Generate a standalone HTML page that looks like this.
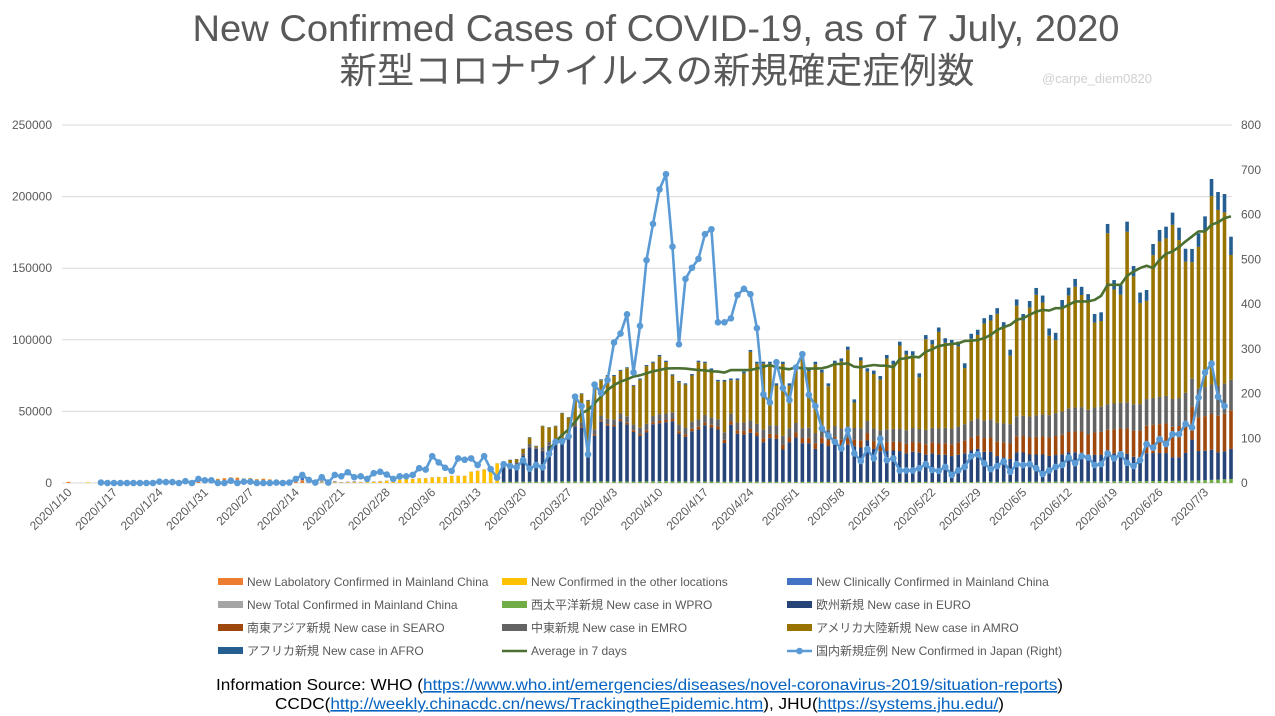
<!DOCTYPE html>
<html><head><meta charset="utf-8">
<style>
html,body{margin:0;padding:0;background:#fff;}
svg{display:block;font-family:"Liberation Sans","Noto Sans CJK JP",sans-serif;}
</style></head>
<body>
<svg id="chart" width="1275" height="716" viewBox="0 0 1275 716" xmlns="http://www.w3.org/2000/svg">
<rect width="1275" height="716" fill="#fff"/>
<text x="656" y="41" text-anchor="middle" font-size="37" fill="#595959" textLength="927" lengthAdjust="spacingAndGlyphs">New Confirmed Cases of COVID-19, as of 7 July, 2020</text>
<text x="657" y="83" text-anchor="middle" font-size="36" fill="#595959" textLength="635" lengthAdjust="spacingAndGlyphs" font-family="'Noto Sans CJK JP',sans-serif">新型コロナウイルスの新規確定症例数</text>
<text x="1097" y="83" text-anchor="middle" font-size="13" fill="#d0d0d0">@carpe_diem0820</text>
<g id="grid"></g><g id="bars"></g><g id="lines"></g><g id="axes"></g><g id="legend"></g>
<text x="216" y="690" font-size="16" fill="#000" textLength="847" lengthAdjust="spacingAndGlyphs">Information Source: WHO (<tspan fill="#0563C1" text-decoration="underline">https://www.who.int/emergencies/diseases/novel-coronavirus-2019/situation-reports</tspan>)</text>
<text x="275" y="709" font-size="16" fill="#000" textLength="729" lengthAdjust="spacingAndGlyphs">CCDC(<tspan fill="#0563C1" text-decoration="underline">http://weekly.chinacdc.cn/news/TrackingtheEpidemic.htm</tspan>), JHU(<tspan fill="#0563C1" text-decoration="underline">https://systems.jhu.edu/</tspan>)</text>
</svg>
<script>
// ---- data (cases in thousands) ----
const leftTicks = [0,50000,100000,150000,200000,250000];
const rightTicks = [0,100,200,300,400,500,600,700,800];
const xTickLabels = ['2020/1/10','2020/1/17','2020/1/24','2020/1/31','2020/2/7','2020/2/14','2020/2/21','2020/2/28','2020/3/6','2020/3/13','2020/3/20','2020/3/27','2020/4/3','2020/4/10','2020/4/17','2020/4/24','2020/5/1','2020/5/8','2020/5/15','2020/5/22','2020/5/29','2020/6/5','2020/6/12','2020/6/19','2020/6/26','2020/7/3'];
const dayCount = 180;
// China-era series, day 0 .. 66
const labChinaK = [0.8,0,0,0,0,0,0,0,0,0,0.14,0.15,0.13,0.26,0.44,0.69,0.77,1.77,1.46,1.74,1.98,2.10,2.59,2.83,3.24,3.89,3.69,3.14,3.40,2.65,2.98,2.47,2.02,2.0,1.8,1.5,1.8,0,0,0,0,0,0,0,0,0,0,0,0,0,0,0,0,0,0,0,0,0,0,0,0,0,0,0,0,0,0];
const otherLocK = [0,0,0,0.5,0,0,0,0,0,0,0,0,0,0,0,0,0,0,0,0,0.1,0.1,0.1,0.1,0.1,0.1,0.1,0.1,0.1,0.1,0.1,0.1,0.1,0.1,0.1,0.1,0.1,0.2,0.2,0.3,0.2,0.3,0.3,0.4,0.4,0.5,0.6,0.8,1.0,1.5,1.6,2.3,3.2,2.8,3.2,3.3,3.9,4.2,4.0,5.0,5.0,5.0,7.9,8.6,9.5,9.5,13.7];
const clinicalChinaK = [0,0,0,0,0,0,0,0,0,0,0,0,0,0,0,0,0,0,0,0,0,0,0,0,0,0,0,0,0,0,0,0,0,0,0,0,3.0,1.0,0,0,0,0,0,0,0,0,0,0,0,0,0,0,0,0,0,0,0,0,0,0,0,0,0,0,0,0,0];
const totalChinaK = [0,0,0,0,0,0,0,0,0,0,0,0,0,0,0,0,0,0,0,0,0,0,0,0,0,0,0,0,0,0,0,0,0,0,0,0,0,0,2.0,1.8,1.7,1.2,0.4,0.6,0.9,0.4,0.5,0.4,0.4,0.3,0.4,0.6,0.2,0.1,0.1,0.1,0.1,0.05,0.05,0.05,0.05,0.05,0.05,0.05,0.05,0.05,0.05];
// WHO region series, day 67 .. 179
const regionStart = 67;
const wproK = [.8,.8,.9,.9,.9,.8,1,1,1,1.1,1.1,1,1, 1.1,1,1.1,1,1,1.1,1,.9,1,1.1,1.2,1.2,1.3,1.1,1,1,1.1,1.1,1,1, .9,.9,.9,.9,.8,.9,.9,.8,.8,.8,.8,.8,.8,.8,.8,.8,.8,.8,.8,.7,.8,.7, .8,.7,.8,.7,.8,.7,.8,.7,.8,.7,.8,.7,.8,.7,.8,.7,.8,.7,.8,.8, .9,.8,.9,.8,.9,.8,.9,.9,.9,.9,1,1,1,1,1.1,1.1,1.1,1.1,1.2, 1.2,1.2,1.3,1.3,1.3,1.3,1.4,1.4,1.4,1.5,1.5,1.5,1.6,1.8,2,2.2,2.4,2.6,2.8];
const euroK = [10,11.5,12,18,24,23,21,25,27,27,30,38.6,37.5, 18,32,41.7,39,38.5,42,39.8,34.7,31.9,34.2,39.8,40.5,41.2,42,33.5,31.2,35,36.3,39.3,37.7, 36.5,27,39.8,33.5,33,34.2,31.9,27.7,30.5,30,22.6,27.7,31,27,27,23,27,25,27,25,26,25, 24,29,23,21.5,21.5,22,21.5,20,21,20.5,19,20,19,19,18,19,20,22,23,21, 21,18,17,16,20.5,20.5,19,19,19,18,18.5,19,20.5,20.5,20,17.5,18.5,18.5,19.5, 19.5,19.5,19,17,16.5,19.5,19.5,19.5,19.5,16.5,16.5,19.5,28.7,20.5,20.5,21,19,19.5,21];
const searoK = [.2,.2,.3,.3,.3,.2,.4,.4,.5,.5,.6,.6,.7, .7,.9,1,1.1,1,1.2,1.3,1.2,1.4,1.5,1.4,1.6,1.5,1.6,1.7,1.8,1.8,1.9,2,2, 2.1,2.2,2.3,2.4,2.6,2.6,2.7,2.8,3,3.1,3.2,3.3,3.5,3.6,3.8,3.9,4.1,4.2,4.4,4.6,4.8,4.6, 5,5.2,5.5,5.7,6,6.1,6.3,6.6,6.8,7,7.3,7.5,7.8,8,8.2,8.5,8.8,9,9.3,9.6, 9.9,10.3,10.5,10.8,11.2,11.5,11.9,12.3,12.6,12.9,13.3,13.7,14.1,14.5,14.9,15.3,15.7,16.1,16.5, 16.9,17.4,17.8,18.3,18.8,19.2,19.7,20.2,20.7,21.3,21.8,22.4,23,23.6,24.2,25,25.6,26.3,27];
const emroK = [1.2,1.3,1.4,1.6,2,1,2.4,2.2,2.5,3,2.6,3,3.2, 3.5,3.6,3.3,3.8,4,4.2,4.5,4,4.3,4.6,4.4,4.8,4.5,4.7,4.6,4.8,4.9,5,5.2,5.1, 5,5.3,5.5,5.4,5.8,6,5.9,6.2,6,6.3,6.4,6.5,6.6,6.9,7,7.2,7.4,7.5,7.6,7.8,8,8.1, 8.5,8.4,8.8,9,9.2,9,9.4,9.6,9.8,9.5,10,10.3,10.5,10.8,11,11.2,11.5,11.8,12,12.3, 12.6,13,13.2,13.5,14,14.2,14.6,15,15.3,15.6,16,16.2,16.5,16.8,17,17.2,17.4,17.6,17.8, 17.9,18,18.2,18.4,18.5,18.6,18.8,19,19.2,19.4,19.5,19.6,19.8,20,20.3,20.6,20.8,21,21.2];
const amroK = [2.1,2.3,2.0,3.0,4.5,.8,14.9,10.1,8.6,17.0,11.3,15.3,19.7, 34.2,31.5,24.7,29.9,30.2,29.8,33.5,27.0,33.6,40.2,37.1,40.4,36.0,25.7,29.5,29.9,32.3,40.1,36.2,33.1, 26.5,35.5,23.3,29.6,34.3,47.9,41.9,45.8,42.9,27.9,50.1,29.7,38.8,50.0,39.6,47.9,37.8,30.1,43.6,46.8,53.4,17.8, 47.2,34.5,38.0,35.3,49.4,45.0,58.0,52.8,50.8,36.1,63.3,58.3,67.4,59.4,58.6,56.0,39.1,57.2,58.3,67.6, 69.1,76.0,66.6,47.8,77.2,66.5,76.1,84.2,78.2,55.5,51.0,72.6,78.9,84.2,78.3,75.0,59.3,59.8,119.4, 79.6,75.4,119.2,89.3,70.5,68.6,99.7,108.6,110.0,121.6,110.3,91.6,81.1,99.0,109.4,131.5,122.9,119.6,87.2];
const afroK = [.1,.2,.2,.2,.3,.2,.3,.3,.4,.4,.4,.5,.5, .5,.6,.6,.6,.7,.7,.7,.6,.8,.8,.8,.9,.9,.8,.9,.9,1,1,1,1.1, 1,1.1,1.2,1.2,1.3,1.3,1.4,1.4,1.5,1.5,1.6,1.6,1.7,1.7,1.8,1.9,1.9,2,2,2.1,2.2,2.2, 2.3,2.3,2.4,2.5,2.5,2.6,2.7,2.7,2.8,2.8,2.9,3,3.1,3.2,3.3,3.3,3.4,3.5,3.6,3.8, 3.9,4,4.1,4.2,4.4,4.5,4.6,4.8,4.9,5,5.1,5.3,5.4,5.5,5.7,5.8,6,6.1,6.5, 6.6,6.8,7,7.2,7.4,7.6,7.8,8,8.2,8.5,8.7,9,9.2,9.5,9.8,12,12.5,12.8,12.8];
// 7-day average, day 74 .. 179
const avgStart = 74;
const avg7K = [23.0,28.9,33.5,37.5,42.8,48.7,51.0,55.6,60.3,65.0,68.4,70.8,72.4,74.3,75.2,76.6,78.0,78.9,79.9,80.1,80.1,79.9,79.4,78.9,78.7,78.0,77.8,77.1,78.9,78.9,78.9,78.9,79.9,81.2,82.4,80.8,80.1,79.4,80.8,80.1,79.9,79.9,80.1,81.2,83.1,83.1,83.6,81.2,80.8,81.7,82.4,81.9,81.9,80.8,86.6,87.1,88.2,87.8,91.7,93.4,95.7,96.4,97.1,97.5,99.2,99.4,99.9,101.1,103.4,106.9,108.8,110.4,113.9,115.1,117.4,119.7,120.9,120.4,122.1,122.1,124.4,126.8,126.8,126.8,127.9,130.7,138.4,138.4,138.4,144.7,147.7,150.1,151.7,150.1,155.9,160.1,161.7,164.8,168.7,172.2,175.7,175.7,180.4,182.0,185.0,186.2];
// Japan daily new cases (right axis), day 5 .. 178
const japanStart = 5;
const japanCases = [1,0,0,0,0,0,0,0,0,3,2,2,0,4,0, 9,6,6,0,0,5,0,3,3,0,0,0,1,0,1, 9,18,7,1,13,1,18,15,24,13,15,9,22,25,19,9,15,15,18,33,30,60,46,34,27,55,52,55,40,60,31,12,42,38,35, 51,32,40,35,65,92,93,104,193,172,64,220,201,230,314,334,377,247,351,498,579,656,690,528,310,456,481,501,556,567,359,359,368,420,434,422,346,198,180,270,212,185,258,288,197,172,122,106,92,77,118,66,49,76,55,99, 51,55,28,28,28,33,42,29,27,36,18,28,36,60,64,44,31,38,48,25,42,40,42,33,20,28,36,40,57,44,60,57,40,42,66,55,64,45,38,51,87,79,98,87,109,109,132,124,191,247,267,193,172];

// ---- scales ----
const NS='http://www.w3.org/2000/svg';
const plotL=62, plotR=1232, y0=483, yTop=125;
function xPos(i){ return 68.5 + i*(1231-68.5)/(dayCount-1); }
function yLeft(v){ return y0 - v/250000*(y0-yTop); }
function yRight(v){ return y0 - v/800*(y0-yTop); }
function mk(tag, attrs, parent){ const e=document.createElementNS(NS,tag); for(const k in attrs) e.setAttribute(k,attrs[k]); parent.appendChild(e); return e; }

const gGrid=document.getElementById('grid'), gBars=document.getElementById('bars'), gLines=document.getElementById('lines'), gAxes=document.getElementById('axes'), gLeg=document.getElementById('legend');

leftTicks.forEach(t=>{
  const y=yLeft(t);
  const ln=mk('line',{x1:plotL,x2:plotR,y1:y,y2:y,stroke:'#d9d9d9','stroke-width':1},gGrid);
  
  
  const tx=mk('text',{x:52,y:y+4,'text-anchor':'end','font-size':12,fill:'#595959'},gAxes);
  tx.textContent=t;
  
  
});
rightTicks.forEach(t=>{
  const tx=mk('text',{x:1241,y:yRight(t)+4,'font-size':12,fill:'#595959'},gAxes);
  tx.textContent=t;
  
  
});
xTickLabels.forEach((lab,k)=>{
  const x=xPos(k*7)+4, y=493;
  const tx=mk('text',{x:x,y:y,'text-anchor':'end','font-size':12,fill:'#595959',transform:`rotate(-45 ${x} ${y})`},gAxes);
  tx.textContent=lab;
  
  
});

const bw=3.6;
function stackFor(i){
  const s=[];
  if(i<regionStart){
    s.push(['lab-china',labChinaK[i],'#ED7D31']);
    s.push(['other-locations',otherLocK[i],'#FFC000']);
    s.push(['clinical-china',clinicalChinaK[i],'#4472C4']);
    s.push(['total-china',totalChinaK[i],'#A5A5A5']);
  } else {
    const j=i-regionStart;
    s.push(['wpro',wproK[j],'#70AD47']);
    s.push(['euro',euroK[j],'#264478']);
    s.push(['searo',searoK[j],'#9E480E']);
    s.push(['emro',emroK[j],'#636363']);
    s.push(['amro',amroK[j],'#997300']);
    s.push(['afro',afroK[j],'#255E91']);
  }
  return s;
}
for(let i=0;i<dayCount;i++){
  let cum=0;
  stackFor(i).forEach(([nm,vk,col])=>{
    if(!vk) return;
    const v=vk*1000;
    const yb=yLeft(cum), yt=yLeft(cum+v);
    cum+=v;
    const r=mk('rect',{x:xPos(i)-bw/2,y:yt,width:bw,height:Math.max(0.3,yb-yt),fill:col},gBars);
    
    
  });
}

// avg line
let d='';
avg7K.forEach((v,k)=>{ d+=(k?'L':'M')+xPos(avgStart+k).toFixed(2)+' '+yLeft(v*1000).toFixed(2); });
const avgPath=mk('path',{d:d,fill:'none',stroke:'#4B7031','stroke-width':2.6,'stroke-linejoin':'round'},gLines);



// japan line
d='';
japanCases.forEach((v,k)=>{ d+=(k?'L':'M')+xPos(japanStart+k).toFixed(2)+' '+yRight(v).toFixed(2); });
const jp=mk('path',{d:d,fill:'none',stroke:'#5B9BD5','stroke-width':2.6,'stroke-linejoin':'round'},gLines);


japanCases.forEach((v,k)=>{
  const c=mk('circle',{cx:xPos(japanStart+k),cy:yRight(v),r:3.3,fill:'#5B9BD5'},gLines);
  
  
});

// legend
const legendItems=[
 ['New Labolatory Confirmed in Mainland China','#ED7D31','box'],
 ['New Confirmed in the other locations','#FFC000','box'],
 ['New Clinically Confirmed in Mainland China','#4472C4','box'],
 ['New Total Confirmed in Mainland China','#A5A5A5','box'],
 ['西太平洋新規 New case in WPRO','#70AD47','box'],
 ['欧州新規 New case in EURO','#264478','box'],
 ['南東アジア新規 New case in SEARO','#9E480E','box'],
 ['中東新規 New case in EMRO','#636363','box'],
 ['アメリカ大陸新規 New case in AMRO','#997300','box'],
 ['アフリカ新規 New case in AFRO','#255E91','box'],
 ['Average in 7 days','#4B7031','line'],
 ['国内新規症例 New Confirmed in Japan (Right)','#5B9BD5','marker']
];
const colX=[218,502,787], rowY=[581,604,627,650];
legendItems.forEach((it,k)=>{
  const x=colX[k%3], y=rowY[Math.floor(k/3)];
  const g=mk('g',{},gLeg);
  
  
  if(it[2]==='box') mk('rect',{x:x,y:y-3,width:25,height:7,fill:it[1]},g);
  else {
    mk('line',{x1:x,x2:x+25,y1:y+1,y2:y+1,stroke:it[1],'stroke-width':2.6},g);
    if(it[2]==='marker') mk('circle',{cx:x+12.5,cy:y+1,r:3.3,fill:it[1]},g);
  }
  const t=mk('text',{x:x+29,y:y+5,'font-size':12,fill:'#595959'},g);
  t.textContent=it[0];
});
</script>
</body></html>
